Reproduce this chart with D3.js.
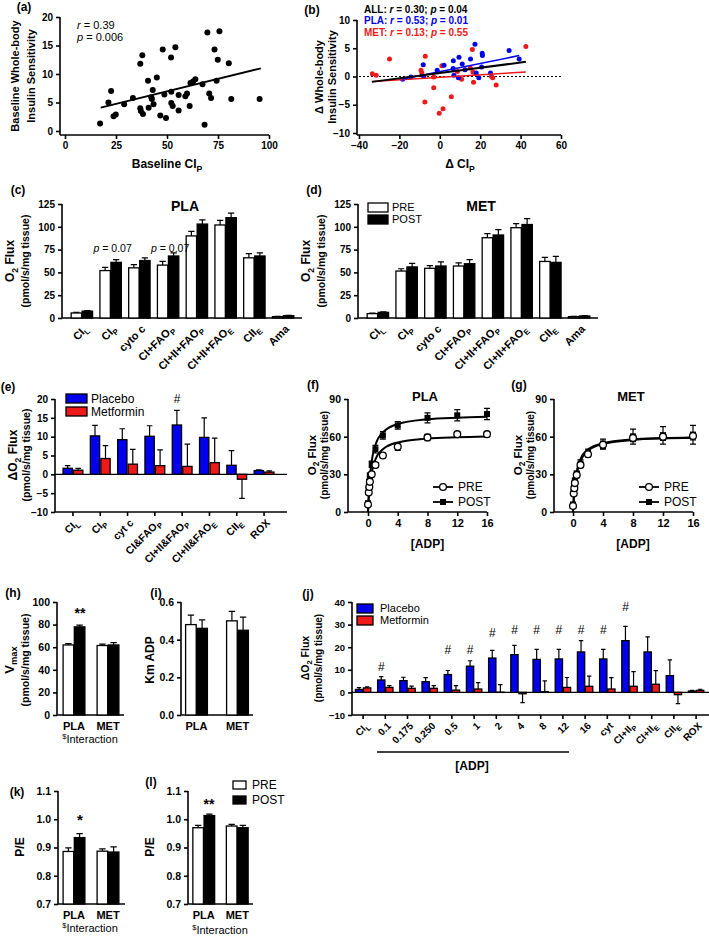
<!DOCTYPE html>
<html>
<head>
<meta charset="utf-8">
<script src="https://cdn.jsdelivr.net/npm/d3@7"></script>
<style>
  body { margin: 0; background: #fff; }
  svg { display: block; }
</style>
</head>
<body>
<svg id="fig" width="709" height="938"></svg>
<script>
// ---- data ----
// (a) baseline CI_P vs whole-body insulin sensitivity
var aBaseCIP = [17.2,21.3,22.6,23.8,24.9,29,33.3,36.9,37.2,38.2,36.9,37.9,40.7,41,42.3,42.6,43,43.4,45,46.7,47.9,48.7,49.5,52,52.1,52.1,52.8,54.1,55.7,55.7,59,59.8,61.1,61.5,62.8,63.9,67.4,68.4,69.8,70.7,71.6,73.3,74.3,74.9,75.7,80.3,81.5,95.4];
var aBaseISI = [1.3,5.0,7.0,2.6,2.9,4.7,5.8,4.0,3.5,3.0,11.8,13.3,8.8,4.1,5.9,5.6,7.2,4.7,9.4,2.7,14.3,6.4,2.3,12.9,6.9,4.9,4.4,14.7,6.3,3.6,6.1,6.6,4.4,8.4,8.7,9.1,8.2,1.1,17.3,6.6,5.8,14.3,8.8,12.5,17.5,11.9,5.6,5.6];
var aFit = [[17.5, 4.1], [96, 11.0]];
var aStats = ["*{r} = 0.39", "*{p} = 0.006"];

// (b) change in CI_P vs change in insulin sensitivity
var bPlaX = [-18.4,-14.3,-8.2,-8.0,-1.3,2.1,6.7,9.5,6.6,7.0,9.2,11.1,12.5,15.2,17.4,18,19.3,20.7,21,21.1,25.1,34.3,39.3];
var bPlaY = [-0.5,-0.1,2.1,0,1.1,2.0,2.8,3.4,1.4,0.2,-0.2,2.2,1.2,3.1,5.7,0.6,-0.2,1.7,4.1,3.7,0.6,4.6,3.1];
var bMetX = [-33.4,-31.5,-24.9,-9.3,-8.9,-7.4,-7.2,-3.0,-3.0,-0.3,1.6,1.0,5.7,8.7,10.8,15.1,16.1,16.4,16.7,25.6,26.2,27.9,42.6];
var bMetY = [0.5,0.2,3.1,1.1,0.6,-4.5,3.6,-2.0,-0.1,-6.5,-5.7,1.9,-3.6,0.9,-0.5,1.5,4.8,0.8,-1.0,0,-0.2,-1.5,5.3];
var bAllFit = [[-33.6, -0.95], [42.6, 2.6]];
var bPlaFit = [[-18.7, -0.5], [39.3, 3.7]];
var bMetFit = [[-33.6, -0.9], [42.6, 0.8]];
var bStats = ["ALL: *{r} = 0.30; *{p} = 0.04", "PLA: *{r} = 0.53; *{p} = 0.01", "MET: *{r} = 0.13; *{p} = 0.55"];

// (c)/(d) O2 flux, PRE vs POST
var fluxCats = ["CI_{L}", "CI_{P}", "cyto  c", "CI+FAO_{P}", "CI+II+FAO_{P}", "CI+II+FAO_{E}", "CII_{E}", "Ama"];
var plaPre = [5.5, 52, 55, 58, 90, 102, 66, 1.5];
var plaPreErr = [0.8, 3.5, 3.5, 4, 5, 5, 4.5, 0.3];
var plaPost = [7.5, 61, 63, 68, 103, 110, 68, 2.5];
var plaPostErr = [0.5, 3, 3, 3.5, 4.5, 5, 3.5, 0.3];
var plaPText = ["", "*{p} = 0.07", "", "*{p} = 0.07", "", "", "", ""];
var metPre = [4.8, 51.5, 54.5, 57, 88, 99, 62, 1.5];
var metPreErr = [0.5, 2.5, 3, 3.5, 4.5, 4.5, 4.5, 0.3];
var metPost = [6.2, 56, 57, 59.5, 91, 102.5, 61, 2.2];
var metPostErr = [0.5, 4, 4.5, 4.5, 6, 6.5, 6.5, 0.3];

// (e) delta O2 flux
var deltaCats = ["CI_{L}", "CI_{P}", "cyt c", "CI&FAO_{P}", "CI+II&FAO_{P}", "CI+II&FAO_{E}", "CII_{E}", "ROX"];
var ePla = [1.6, 10.2, 9.2, 10.1, 13.1, 9.8, 2.4, 1.0];
var ePlaErr = [0.7, 2.8, 2.9, 2.8, 3.9, 5.2, 3.9, 0.2];
var eMet = [1.1, 4.2, 2.7, 2.3, 2.1, 3.1, -1.3, 0.6];
var eMetErr = [0.5, 3.4, 3.9, 4.2, 5.9, 6.5, 5.1, 0.3];
var eHashAt = [null, null, null, null, 20, null, null, null];

// (f)/(g) ADP titration
var adp = [0, 0.1, 0.175, 0.25, 0.5, 1, 2, 4, 8, 12, 16];
var fPre = [5.9, 15.5, 20, 24, 30, 37.4, 45, 52, 59.4, 62, 62];
var fPreErr = [1, 1, 1.5, 1.5, 2, 2, 2, 3, 2.5, 2, 2];
var fPost = [7, 18, 24, 29, 38, 50, 61, 69, 75, 77, 78];
var fPostErr = [1, 1.5, 2, 2, 2.5, 3, 3, 3, 4, 4.5, 4.5];
var fPreFit = [0, 10.7, 16.6, 21.2, 31.6, 41.9, 50, 55.4, 58.5, 59.6, 60.2];
var fPostFit = [0, 14.1, 21.5, 27.3, 40.6, 53.4, 63.4, 70, 73.8, 75.1, 75.8];
var gPre = [4.8, 14.7, 19, 23, 29.4, 37.4, 46, 53.5, 59, 60, 60.5];
var gPreErr = [1, 1.5, 1.5, 2, 2, 2, 2, 3, 3, 3, 3];
var gPost = [6, 16, 21, 25, 30.5, 38.5, 47, 54, 60, 61, 61.5];
var gPostErr = [1, 1.5, 1.5, 2, 2, 3, 3, 4, 6, 7, 7.5];
var gPreFit = [0, 10.2, 15.8, 20.3, 30.5, 40.7, 48.8, 54.2, 57.4, 58.6, 59.1];
var gPostFit = [0, 11.1, 17.1, 21.8, 32.1, 42.1, 49.8, 54.8, 57.8, 58.8, 59.3];

// (h)/(i)/(k)/(l) group summaries
var groups = ["PLA", "MET"];
var vmaxPre = [62, 61.5], vmaxPreErr = [1.2, 1.2];
var vmaxPost = [78, 62], vmaxPostErr = [1.5, 2];
var kmPre = [0.48, 0.50], kmPreErr = [0.05, 0.05];
var kmPost = [0.46, 0.45], kmPostErr = [0.045, 0.07];
var peKPre = [0.886, 0.887], peKPreErr = [0.013, 0.008];
var peKPost = [0.935, 0.884], peKPostErr = [0.014, 0.018];
var peLPre = [0.970, 0.976], peLPreErr = [0.008, 0.006];
var peLPost = [1.013, 0.970], peLPostErr = [0.005, 0.008];

// (j) delta O2 flux over the ADP titration
var jCats = ["CI_{L}", "0.1", "0.175", "0.250", "0.5", "1", "2", "4", "8", "12", "16", "cyt", "CI+II_{P}", "CI+II_{E}", "CII_{E}", "ROX"];
var jPla = [1.3, 5.5, 5.2, 4.7, 7.9, 11.6, 15.2, 16.7, 14.6, 14.8, 17.9, 14.8, 22.9, 17.9, 7.4, 0.6];
var jPlaErr = [0.8, 1.5, 1.5, 1.8, 1.8, 2.4, 3.4, 4.1, 4.4, 4.2, 5, 4.2, 6.3, 6.7, 7, 0.3];
var jMet = [2.0, 2.2, 1.8, 1.8, 1.0, 1.5, 0.1, -0.6, 0.3, 2.2, 2.7, 1.5, 2.7, 3.6, -1.0, 0.9];
var jMetErr = [0.5, 0.8, 1, 1.2, 2, 2.8, 3.3, 3.9, 4.8, 4.4, 4.5, 5, 6.5, 6, 4, 0.5];
var jHashAt = [null, 11.4, null, null, 18.9, 18.9, 26.3, 27.8, 27.8, 27.8, 27.8, 27.8, 37.9, null, null, null];

// ---- helpers ----
var F = "'Liberation Sans', Arial, Helvetica, sans-serif";
var BLUE = "#0000ee", RED = "#ee1a1a";
var svg = d3.select("#fig").attr("font-family", F);

// tiny markup: _{sub} ^{sup} *{italic}
function rich(t, str, size) {
  var parts = str.split(/(_\{[^}]*\}|\^\{[^}]*\}|\*\{[^}]*\})/), shift = 0;
  parts.forEach(function(p) {
    if (!p) return;
    var ts = t.append("tspan"), want = 0, body = p;
    if (/^_\{/.test(p)) { body = p.slice(2, -1); want = size * 0.28; ts.attr("font-size", "72%"); }
    else if (/^\^\{/.test(p)) { body = p.slice(2, -1); want = -size * 0.38; ts.attr("font-size", "68%"); }
    else if (/^\*\{/.test(p)) { body = p.slice(2, -1); ts.attr("font-style", "italic"); }
    if (want !== shift) ts.attr("dy", want - shift);
    shift = want;
    ts.text(body);
  });
}

function label(g, x, y, str, o) {
  o = o || {};
  var size = o.size || 11;
  var t = g.append("text")
    .attr("transform", "translate(" + x + "," + y + ")" + (o.rot ? " rotate(" + o.rot + ")" : ""))
    .attr("y", size * 0.35)
    .attr("font-size", size)
    .attr("font-weight", o.weight || "bold")
    .attr("text-anchor", o.anchor || "middle")
    .attr("fill", o.color || "#000");
  rich(t, str, size);
  return t;
}

function tidy(a, size) {
  a.attr("font-family", F).attr("font-size", size || 10).attr("font-weight", "bold");
  a.selectAll(".tick line").attr("stroke", "#000").attr("stroke-width", 1.6);
  a.selectAll(".tick text").attr("fill", "#000");
  a.select(".domain").remove();
  return a;
}

function yAxis(g, y, x, ticks, fmt, span, size) {
  var a = g.append("g").attr("transform", "translate(" + x + ",0)")
    .call(d3.axisLeft(y).tickValues(ticks).tickFormat(fmt || d3.format("d")).tickSize(4).tickPadding(3));
  tidy(a, size);
  span = span || y.range();
  a.append("line").attr("y1", span[0]).attr("y2", span[1]).attr("stroke", "#000").attr("stroke-width", 1.6);
  return a;
}

function xAxis(g, x, y, ticks, fmt, span, size) {
  var a = g.append("g").attr("transform", "translate(0," + y + ")")
    .call(d3.axisBottom(x).tickValues(ticks).tickFormat(fmt || d3.format("d")).tickSize(4).tickPadding(3));
  tidy(a, size);
  span = span || x.range();
  a.append("line").attr("x1", span[0]).attr("x2", span[1]).attr("stroke", "#000").attr("stroke-width", 1.6);
  return a;
}

// category axis with rotated labels
function catAxis(g, x, y, span, ticks, size) {
  g.append("line").attr("x1", span[0]).attr("x2", span[1]).attr("y1", y).attr("y2", y)
    .attr("stroke", "#000").attr("stroke-width", 1.6);
  x.domain().forEach(function(c) {
    var cx = x(c) + x.bandwidth() / 2;
    if (ticks) {
      g.append("line").attr("x1", cx).attr("x2", cx).attr("y1", y).attr("y2", y + 4)
        .attr("stroke", "#000").attr("stroke-width", 1.6);
    }
    label(g, cx + 4, y + 9, c, {rot: -45, anchor: "end", size: size || 10});
  });
}

function groupAxis(g, x, y, span, size) {
  g.append("line").attr("x1", span[0]).attr("x2", span[1]).attr("y1", y).attr("y2", y)
    .attr("stroke", "#000").attr("stroke-width", 1.6);
  x.domain().forEach(function(c) {
    label(g, x(c) + x.bandwidth() / 2, y + 11, c, {size: size || 11});
  });
}

function barGroup(g, x, y, series, bw, gap) {
  var base = Math.max(0, y.domain()[0]), n = series.length;
  series.forEach(function(s, si) {
    var off = (si - (n - 1) / 2) * (bw + gap);
    var rows = x.domain().map(function(c, i) { return {c: c, v: s.v[i], e: s.e[i]}; });
    var cx = function(d) { return x(d.c) + x.bandwidth() / 2 + off; };
    g.append("g").selectAll("path").data(rows).enter().append("path")
      .attr("fill", "none").attr("stroke", "#000").attr("stroke-width", 1.2)
      .attr("d", function(d) {
        var tip = y(d.v + (d.v < 0 ? -d.e : d.e)), c = cx(d), w = bw * 0.3;
        return "M" + c + "," + y(d.v) + "V" + tip + "M" + (c - w) + "," + tip + "H" + (c + w);
      });
    g.append("g").selectAll("rect").data(rows).enter().append("rect")
      .attr("x", function(d) { return cx(d) - bw / 2; })
      .attr("width", bw)
      .attr("y", function(d) { return y(Math.max(d.v, base)); })
      .attr("height", function(d) { return Math.abs(y(d.v) - y(base)); })
      .attr("fill", s.fill).attr("stroke", "#000").attr("stroke-width", 1.3);
  });
}

function boxLegend(g, x, y, w, h, step, items, size, tx) {
  items.forEach(function(it, i) {
    g.append("rect").attr("x", x).attr("y", y + i * step).attr("width", w).attr("height", h)
      .attr("fill", it[1]).attr("stroke", "#000").attr("stroke-width", 1.3);
    label(g, tx, y + i * step + h / 2, it[0], {size: size, weight: "normal", anchor: "start"});
  });
}

function yTitle(g, x, y, str, size) {
  label(g, x, y, str, {rot: -90, size: size || 11});
}

function fitLine(g, xs, ys, pts, color, w) {
  g.append("path").datum(pts)
    .attr("d", d3.line().x(function(d) { return xs(d[0]); }).y(function(d) { return ys(d[1]); }))
    .attr("fill", "none").attr("stroke", color).attr("stroke-width", w);
}

// ---- (a) ----
var gA = svg.append("g");
var xA = d3.scaleLinear().domain([0, 100]).range([65, 269]);
var yA = d3.scaleLinear().domain([0, 20]).range([131, 17]);
yAxis(gA, yA, 60, [0, 5, 10, 15, 20], null, [135, 17]);
xAxis(gA, xA, 135, [0, 25, 50, 75, 100], null, [60, 269]);
gA.append("g").selectAll("circle").data(d3.zip(aBaseCIP, aBaseISI)).enter().append("circle")
  .attr("cx", function(d) { return xA(d[0]); }).attr("cy", function(d) { return yA(d[1]); })
  .attr("r", 3).attr("fill", "#000");
fitLine(gA, xA, yA, aFit, "#000", 1.8);
aStats.forEach(function(s, i) { label(gA, 77, 25 + i * 12, s, {size: 11, weight: "normal", anchor: "start"}); });
yTitle(gA, 15, 76, "Baseline Whole-body", 11);
yTitle(gA, 31, 76, "Insulin Sensitivity", 11);
label(gA, 167, 164, "Baseline CI_{P}", {size: 12});
label(gA, 24, 7, "(a)", {size: 12});

// ---- (b) ----
var gB = svg.append("g");
var xB = d3.scaleLinear().domain([-40, 60]).range([359, 561]);
var yB = d3.scaleLinear().domain([-10, 10]).range([133, 20]);
yAxis(gB, yB, 357, [-10, -5, 0, 5, 10], null, [135, 20]);
xAxis(gB, xB, 135, [-40, -20, 0, 20, 40, 60], null, [357, 561]);
gB.append("line").attr("x1", xB(-40)).attr("x2", xB(60)).attr("y1", yB(0)).attr("y2", yB(0))
  .attr("stroke", "#000").attr("stroke-width", 1).attr("stroke-dasharray", "2,2");
[[bMetX, bMetY, RED], [bPlaX, bPlaY, BLUE]].forEach(function(s) {
  gB.append("g").selectAll("circle").data(d3.zip(s[0], s[1])).enter().append("circle")
    .attr("cx", function(d) { return xB(d[0]); }).attr("cy", function(d) { return yB(d[1]); })
    .attr("r", 2.5).attr("fill", s[2]);
});
fitLine(gB, xB, yB, bMetFit, RED, 1.5);
fitLine(gB, xB, yB, bPlaFit, BLUE, 1.5);
fitLine(gB, xB, yB, bAllFit, "#000", 2);
[["#000"], [BLUE], [RED]].forEach(function(c, i) {
  label(gB, 364, 9 + i * 11.5, bStats[i], {size: 10, anchor: "start", color: c[0]});
});
yTitle(gB, 319, 77, "\u0394 Whole-body", 11);
yTitle(gB, 332, 77, "Insulin Sensitivity", 11);
label(gB, 460, 164, "\u0394 CI_{P}", {size: 12});
label(gB, 312, 10, "(b)", {size: 12});

// ---- (c) / (d) ----
function fluxPanel(x0, pre, preErr, post, postErr, title, tag) {
  var g = svg.append("g");
  var y = d3.scaleLinear().domain([0, 125]).range([318, 204]);
  var x = d3.scaleBand().domain(fluxCats).range([x0 + 5.5, x0 + 235.5]);
  yAxis(g, y, x0, [0, 25, 50, 75, 100, 125]);
  catAxis(g, x, 318, [x0, x0 + 240], false, 11);
  barGroup(g, x, y, [{v: pre, e: preErr, fill: "#fff"}, {v: post, e: postErr, fill: "#000"}], 10.4, 0.6);
  yTitle(g, x0 - 52, 261, "O_{2} Flux", 12);
  yTitle(g, x0 - 37, 261, "(pmol/s/mg tissue)", 10.5);
  label(g, x0 + 123, 206, title, {size: 14});
  label(g, x0 - 44, 190, tag, {size: 12});
  return {g: g, x: x, y: y};
}
var pC = fluxPanel(62, plaPre, plaPreErr, plaPost, plaPostErr, "PLA", "(c)");
plaPText.forEach(function(s, i) {
  if (!s) return;
  label(pC.g, pC.x(fluxCats[i]) + pC.x.bandwidth() / 2 + 2, 248, s, {size: 10.5, weight: "normal"});
});
var pD = fluxPanel(358, metPre, metPreErr, metPost, metPostErr, "MET", "(d)");
boxLegend(pD.g, 368, 203, 20, 9, 12, [["PRE", "#fff"], ["POST", "#000"]], 11, 392);

// ---- (e) ----
var gE = svg.append("g");
var yE = d3.scaleLinear().domain([-10, 20]).range([512, 399]);
var xE = d3.scaleBand().domain(deltaCats).range([59.3, 277.7]);
yAxis(gE, yE, 55, [-10, -5, 0, 5, 10, 15, 20]);
gE.append("line").attr("x1", 55).attr("x2", 287).attr("y1", yE(0)).attr("y2", yE(0))
  .attr("stroke", "#000").attr("stroke-width", 1.3);
catAxis(gE, xE, 512, [55, 287], true, 10.5);
barGroup(gE, xE, yE, [{v: ePla, e: ePlaErr, fill: BLUE}, {v: eMet, e: eMetErr, fill: RED}], 9.3, 1.2);
eHashAt.forEach(function(h, i) {
  if (h === null) return;
  label(gE, xE(deltaCats[i]) + xE.bandwidth() / 2 - 5, yE(h), "#", {size: 12, weight: "normal"});
});
boxLegend(gE, 66, 394, 21, 9, 13, [["Placebo", BLUE], ["Metformin", RED]], 12, 91);
yTitle(gE, 13, 455, "\u0394O_{2} Flux", 12);
yTitle(gE, 26, 455, "(pmol/s/mg tissue)", 10.5);
label(gE, 8, 387, "(e)", {size: 12});

// ---- (f) / (g) ----
function adpPanel(x0, zeroX, pre, preErr, post, postErr, preFit, postFit, title, tag) {
  var g = svg.append("g");
  var pxPer = (x0 + 139 - zeroX) / 16;
  var x = d3.scaleLinear().domain([(x0 - zeroX) / pxPer, 16]).range([x0, x0 + 139]);
  var y = d3.scaleLinear().domain([0, 90]).range([512, 399]);
  yAxis(g, y, x0, [0, 30, 60, 90], null, null, 10.5);
  xAxis(g, x, 512, [0, 4, 8, 12, 16], null, null, 11);
  var line = d3.line().x(function(d) { return x(d[0]); }).y(function(d) { return y(d[1]); }).curve(d3.curveMonotoneX);
  [preFit, postFit].forEach(function(f) {
    g.append("path").datum(d3.zip(adp, f)).attr("d", line)
      .attr("fill", "none").attr("stroke", "#000").attr("stroke-width", 2);
  });
  [[pre, preErr], [post, postErr]].forEach(function(s) {
    g.append("g").selectAll("path").data(d3.zip(adp, s[0], s[1])).enter().append("path")
      .attr("fill", "none").attr("stroke", "#000").attr("stroke-width", 1.2)
      .attr("d", function(d) {
        var cx = x(d[0]), hi = y(d[1] + d[2]), lo = y(d[1] - d[2]);
        return "M" + cx + "," + lo + "V" + hi + "M" + (cx - 3) + "," + hi + "H" + (cx + 3) +
          "M" + (cx - 3) + "," + lo + "H" + (cx + 3);
      });
  });
  g.append("g").selectAll("rect").data(d3.zip(adp, post)).enter().append("rect")
    .attr("x", function(d) { return x(d[0]) - 3; }).attr("y", function(d) { return y(d[1]) - 3; })
    .attr("width", 6).attr("height", 6).attr("fill", "#000");
  g.append("g").selectAll("circle").data(d3.zip(adp, pre)).enter().append("circle")
    .attr("cx", function(d) { return x(d[0]); }).attr("cy", function(d) { return y(d[1]); })
    .attr("r", 3.4).attr("fill", "#fff").attr("stroke", "#000").attr("stroke-width", 1.3);
  // legend
  var lx = x0 + 85;
  [["PRE", 487], ["POST", 502]].forEach(function(it, i) {
    g.append("line").attr("x1", lx).attr("x2", lx + 20).attr("y1", it[1]).attr("y2", it[1])
      .attr("stroke", "#000").attr("stroke-width", 1.8);
    if (i === 0) {
      g.append("circle").attr("cx", lx + 10).attr("cy", it[1]).attr("r", 3.4)
        .attr("fill", "#fff").attr("stroke", "#000").attr("stroke-width", 1.3);
    } else {
      g.append("rect").attr("x", lx + 7).attr("y", it[1] - 3).attr("width", 6).attr("height", 6).attr("fill", "#000");
    }
    label(g, lx + 25, it[1], it[0], {size: 12, weight: "normal", anchor: "start"});
  });
  yTitle(g, x0 - 36, 455, "O_{2} Flux", 11.5);
  yTitle(g, x0 - 24, 455, "(pmol/s/mg tissue)", 10);
  label(g, x0 + 77, 396, title, {size: 13});
  label(g, x(8), 544, "[ADP]", {size: 12});
  label(g, x0 - 35, 385, tag, {size: 12});
}
adpPanel(348, 368, fPre, fPreErr, fPost, fPostErr, fPreFit, fPostFit, "PLA", "(f)");
adpPanel(554, 573, gPre, gPreErr, gPost, gPostErr, gPreFit, gPostFit, "MET", "(g)");

// ---- (h) / (i) / (k) / (l) ----
function pairPanel(x0, x1, bandLo, bandHi, yDom, yRange, ticks, fmt, pre, preErr, post, postErr) {
  var g = svg.append("g");
  var y = d3.scaleLinear().domain(yDom).range(yRange);
  var x = d3.scaleBand().domain(groups).range([bandLo, bandHi]);
  yAxis(g, y, x0, ticks, fmt, null, 10.5);
  groupAxis(g, x, yRange[0], [x0, x1], 11);
  barGroup(g, x, y, [{v: pre, e: preErr, fill: "#fff"}, {v: post, e: postErr, fill: "#000"}], 10.6, 0.6);
  return {g: g, x: x, y: y};
}
var pH = pairPanel(57, 124, 57, 125, [0, 100], [715, 602], [0, 20, 40, 60, 80, 100], null,
  vmaxPre, vmaxPreErr, vmaxPost, vmaxPostErr);
label(pH.g, 80, 613, "**", {size: 14});
label(pH.g, 90, 739, "^{$}Interaction", {size: 11, weight: "normal"});
yTitle(pH.g, 9, 660, "V_{max}", 13);
yTitle(pH.g, 25, 660, "(pmol/s/mg tissue)", 10.5);
label(pH.g, 13, 593, "(h)", {size: 12});

var pI = pairPanel(181, 253, 176, 258, [0, 0.6], [715, 602], [0, 0.2, 0.4, 0.6], d3.format(".1f"),
  kmPre, kmPreErr, kmPost, kmPostErr);
yTitle(pI.g, 150, 660, "Km ADP", 12);
label(pI.g, 156, 593, "(i)", {size: 12});

var pK = pairPanel(58, 125, 57, 125, [0.7, 1.1], [904, 791], [0.7, 0.8, 0.9, 1.0, 1.1], d3.format(".1f"),
  peKPre, peKPreErr, peKPost, peKPostErr);
label(pK.g, 80, 820, "*", {size: 15});
label(pK.g, 90, 928, "^{$}Interaction", {size: 11, weight: "normal"});
yTitle(pK.g, 20, 847, "P/E", 12);
label(pK.g, 17, 792, "(k)", {size: 12});

var pL = pairPanel(188, 253, 187, 254, [0.7, 1.1], [904, 791], [0.7, 0.8, 0.9, 1.0, 1.1], d3.format(".1f"),
  peLPre, peLPreErr, peLPost, peLPostErr);
label(pL.g, 209, 804, "**", {size: 14});
label(pL.g, 220, 930, "^{$}Interaction", {size: 11, weight: "normal"});
yTitle(pL.g, 150, 847, "P/E", 12);
label(pL.g, 151, 782, "(l)", {size: 12});
boxLegend(pL.g, 233, 781, 13, 8, 15, [["PRE", "#fff"], ["POST", "#000"]], 12, 252);

// ---- (j) ----
var gJ = svg.append("g");
var yJ = d3.scaleLinear().domain([-10, 40]).range([715, 602]);
var xJ = d3.scaleBand().domain(jCats).range([352, 707.2]);
yAxis(gJ, yJ, 352, [-10, 0, 10, 20, 30, 40], null, null, 9.5);
gJ.append("line").attr("x1", 352).attr("x2", 709).attr("y1", yJ(0)).attr("y2", yJ(0))
  .attr("stroke", "#000").attr("stroke-width", 1.3);
catAxis(gJ, xJ, 715, [352, 709], true, 10);
barGroup(gJ, xJ, yJ, [{v: jPla, e: jPlaErr, fill: BLUE}, {v: jMet, e: jMetErr, fill: RED}], 7.3, 0.8);
jHashAt.forEach(function(h, i) {
  if (h === null) return;
  label(gJ, xJ(jCats[i]) + xJ.bandwidth() / 2 - 4, yJ(h), "#", {size: 12, weight: "normal"});
});
boxLegend(gJ, 357, 604, 16, 9, 12, [["Placebo", BLUE], ["Metformin", RED]], 11, 380);
gJ.append("line").attr("x1", 377).attr("x2", 569).attr("y1", 752).attr("y2", 752)
  .attr("stroke", "#000").attr("stroke-width", 1.6);
label(gJ, 472, 766, "[ADP]", {size: 12});
yTitle(gJ, 305, 658, "\u0394O_{2} Flux", 10.5);
yTitle(gJ, 318, 658, "(pmol/s/mg tissue)", 10);
label(gJ, 308, 594, "(j)", {size: 12});
</script>
</body>
</html>
